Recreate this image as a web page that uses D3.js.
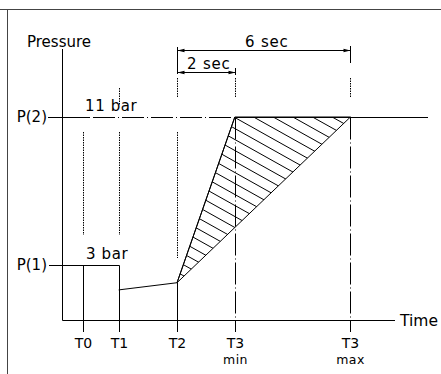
<!DOCTYPE html>
<html>
<head>
<meta charset="utf-8">
<script src="https://cdn.jsdelivr.net/npm/d3@7"></script>
<style>
  body { margin: 0; background: #fff; }
  text { font-family: "DejaVu Sans", sans-serif; font-size: 15px; fill: #000; }
</style>
</head>
<body>
<svg id="chart" width="441" height="374"></svg>
<script>
// time marks (seconds from the pressure axis)
var tickNames = ["T0", "T1", "T2", "T3", "T3"];
var tickSubs = ["", "", "", "min", "max"];
var tickTimes = [0.7, 1.95, 3.97, 5.97, 9.97];

// pressure levels (bar)
var levelNames = ["P(1)", "P(2)"];
var levelLabels = ["3 bar", "11 bar"];
var levelValues = [3, 11];

// pressure curve after T1
var curveTimes = [1.95, 3.97, 5.97];
var curvePressures = [1.63, 2.02, 11];

// allowed window for the ramp (hatched)
var windowTimes = [3.97, 5.97, 9.97];
var windowPressures = [2.02, 11, 11];

// dimension spans
var spanFrom = [3.97, 3.97];
var spanTo = [9.97, 5.97];
var spanLabels = ["6 sec", "2 sec"];

var svg = d3.select("#chart");

var x = d3.scaleLinear().domain([0, 10]).range([62.3, 351.3]);
var y = d3.scaleLinear().domain([0, 11]).range([320, 117]);

// snap to pixel grid so 1px lines stay crisp
var px = function (v) { return Math.round(v) + 0.5; };

function line(x1, y1, x2, y2, dash) {
  var l = svg.append("line")
    .attr("x1", x1).attr("y1", y1)
    .attr("x2", x2).attr("y2", y2)
    .attr("stroke", "#000")
    .attr("stroke-width", 1);
  if (dash) l.attr("stroke-dasharray", dash);
  return l;
}

var dashDot = "22,3,1,3";
var dotted = "1.5,1";

// frame
line(0, 9.5, 441, 9.5).attr("stroke", "#444");
line(7.5, 9, 7.5, 374).attr("stroke", "#444");

// axes
var x0 = px(x(0)), yBase = px(y(0));
line(x0, 49, x0, yBase);
line(x0, yBase, 395, yBase);

svg.append("text").attr("x", 27).attr("y", 47).text("Pressure");
svg.append("text").attr("x", 400).attr("y", 326).style("font-size", "15.5px").text("Time");

// hatch clip triangle
var tri = windowTimes.map(function (t, i) { return [x(t), y(windowPressures[i])]; });
svg.append("clipPath").attr("id", "tri")
  .append("path").attr("d", "M" + tri.join("L") + "Z");

var hatch = svg.append("g").attr("clip-path", "url(#tri)");
var slope = 0.56;
for (var c = -300; c < 200; c += 11) {
  hatch.append("line")
    .attr("x1", 150).attr("y1", slope * 150 + c)
    .attr("x2", 380).attr("y2", slope * 380 + c)
    .attr("stroke", "#000").attr("stroke-width", 1);
}
svg.append("path")
  .attr("d", "M" + tri.join("L") + "Z")
  .attr("fill", "none").attr("stroke", "#000").attr("stroke-width", 1);

// P(2) reference line
var yP2 = px(y(levelValues[1]));
line(48, yP2, 90, yP2);
line(90, yP2, px(x(tickTimes[3])), yP2, dashDot).attr("stroke-dashoffset", 26);
line(px(x(tickTimes[3])), yP2, 428, yP2);

// P(1) line up to T1
var yP1 = px(y(levelValues[0]));
line(49, yP1, px(x(tickTimes[1])), yP1);

levelNames.forEach(function (n, i) {
  svg.append("text")
    .attr("x", 47).attr("y", y(levelValues[i]) + 5)
    .attr("text-anchor", "end")
    .text(n);
});
svg.append("text").attr("x", 86).attr("y", 259).style("letter-spacing", "0.6px").text(levelLabels[0]);
svg.append("text").attr("x", 85).attr("y", 111).style("letter-spacing", "0.6px").text(levelLabels[1]);

// pressure curve
var curve = d3.line()
  .x(function (d) { return x(d[0]); })
  .y(function (d) { return y(d[1]); });
svg.append("path")
  .datum(curveTimes.map(function (t, i) { return [t, curvePressures[i]]; }))
  .attr("d", curve)
  .attr("fill", "none").attr("stroke", "#000").attr("stroke-width", 1);

// vertical time marks
var tickBottom = 332;
var xs = tickTimes.map(function (t) { return px(x(t)); });
line(xs[0], yP1, xs[0], tickBottom);
line(xs[1], yP1, xs[1], tickBottom);
line(xs[2], y(curvePressures[1]), xs[2], tickBottom);
line(xs[3], yP2, xs[3], tickBottom, dashDot);
line(xs[4], yP2, xs[4], tickBottom, dashDot);

// dotted guides
line(xs[0], 132, xs[0], 235, dotted);
line(xs[1], 132, xs[1], 235, dotted);
line(xs[1], 88, xs[1], 105, dotted);
line(xs[2], 132, xs[2], 258, dotted);
line(xs[2], 78, xs[2], 97, dotted);
line(xs[3], 78, xs[3], 97, dotted);
line(xs[4], 78, xs[4], 97, dotted);

tickNames.forEach(function (n, i) {
  svg.append("text")
    .attr("x", xs[i]).attr("y", 348)
    .attr("text-anchor", "middle")
    .style("font-size", "14px")
    .text(n);
  if (tickSubs[i]) {
    svg.append("text")
      .attr("x", xs[i]).attr("y", 364)
      .attr("text-anchor", "middle")
      .style("font-size", "12.5px")
      .style("letter-spacing", "0.5px")
      .text(tickSubs[i]);
  }
});

// dimension lines
function arrow(xTip, yy, dir) {
  svg.append("path")
    .attr("d", "M" + xTip + "," + yy + "L" + (xTip - dir * 7) + "," + (yy - 1.8) +
      "L" + (xTip - dir * 7) + "," + (yy + 1.8) + "Z")
    .attr("fill", "#000");
}
var spanY = [50.5, 72.5];
var spanTextX = [245, 187];
var spanTextY = [47, 69];
spanLabels.forEach(function (lab, i) {
  var a = px(x(spanFrom[i])), b = px(x(spanTo[i]));
  line(a, spanY[i], b, spanY[i]);
  arrow(a, spanY[i], -1);
  arrow(b, spanY[i], 1);
  svg.append("text").attr("x", spanTextX[i]).attr("y", spanTextY[i])
    .style("letter-spacing", "0.8px").text(lab);
});
// extension ticks
line(xs[2], 47, xs[2], 74);
line(xs[4], 46, xs[4], 63);
line(xs[3], 68, xs[3], 75);
</script>
</body>
</html>
